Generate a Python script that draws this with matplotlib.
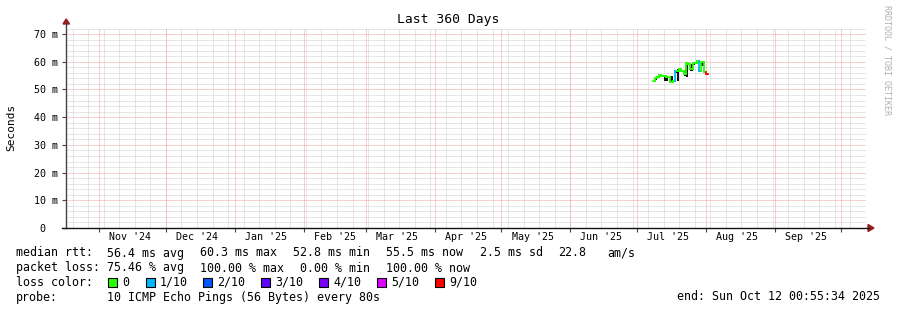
import datetime as dt
import matplotlib
matplotlib.use('Agg')
import matplotlib.pyplot as plt
import matplotlib.dates as mdates
from matplotlib.patches import Polygon

# data (daily medians, ms)
start = dt.datetime(2024, 10, 17, 0, 55, 34)
end = dt.datetime(2025, 10, 12, 0, 55, 34)
first_day = dt.datetime(2025, 7, 8)
median = [53.0, 54.1, 54.6, 55.1, 54.8, 54.8, 54.6, 54.6, 52.8, 53.0,
          56.5, 56.6, 57.5, 56.6, 55.5, 59.4, 59.1, 57.3, 59.4, 59.7,
          60.3, 56.7, 60.1, 56.4, 55.5]
smoke_lo = [53.0, 53.6, 54.6, 55.1, 54.8, 53.2, 53.0, 54.6, 52.6, 53.0,
            56.0, 52.9, 57.5, 56.2, 54.8, 54.5, 58.8, 56.8, 58.9, 59.7,
            59.8, 56.2, 58.5, 55.9, 55.2]
smoke_hi = [53.0, 54.1, 55.0, 55.1, 54.8, 55.3, 55.0, 54.6, 55.0, 53.0,
            56.5, 57.5, 57.9, 56.6, 57.0, 59.6, 59.1, 59.2, 59.4, 59.9,
            60.3, 56.7, 60.1, 56.4, 55.5]
loss = [0, 0, 0, 0, 0, 0, 0, 0, 0, 0,
        1, 0, 0, 0, 0, 0, 0, 0, 0, 0,
        0, 1, 0, 0, 9]
loss_levels = ['0', '1/10', '2/10', '3/10', '4/10', '5/10', '9/10']
loss_colors = ['#26ff00', '#00b8ff', '#0059ff', '#5e00ff', '#7e00ff', '#dd00ff', '#ff0000']
loss_map = {0: '#26ff00', 1: '#00b8ff', 2: '#0059ff', 3: '#5e00ff',
            4: '#7e00ff', 5: '#dd00ff', 9: '#ff0000'}

W, H = 897, 310
MONO = 'DejaVu Sans Mono'

def fx(x):
    return x / W

def fy(y):
    return 1 - y / H

fig = plt.figure(figsize=(W / 100, H / 100), dpi=100, facecolor='white')
ax = fig.add_axes([fx(66), fy(228), 800 / W, 200 / H])
ax.set_xlim(start, end)
ax.set_ylim(0, 72.2)
for s in ax.spines.values():
    s.set_visible(False)

# grid: weekly minor, monthly major, 2 m minor, 10 m major
dotted = (0, (1, 1))
minor_c = '#cfcfcf'
major_c = '#f3a0a0'
d = dt.datetime(2024, 10, 20)
while d < end:
    ax.axvline(d, color=minor_c, lw=0.72, ls=dotted, zorder=1)
    d += dt.timedelta(days=7)
months = [dt.datetime(2024 + (10 + i) // 12, (10 + i) % 12 + 1, 1) for i in range(12)]
for m in months:
    ax.axvline(m, color=major_c, lw=0.72, ls=dotted, zorder=2)
for v in range(2, 73, 2):
    major = v % 10 == 0
    ax.axhline(v, color=major_c if major else minor_c, lw=0.72, ls=dotted,
               zorder=2 if major else 1)

# smoke + median
days = [first_day + dt.timedelta(days=i) for i in range(len(median) + 1)]
for i in range(len(median)):
    if smoke_hi[i] > smoke_lo[i]:
        ax.fill_between([days[i], days[i + 1]], smoke_lo[i], smoke_hi[i],
                        color='#111111', lw=0, zorder=3)
for i in range(len(median)):
    col = loss_map[loss[i]]
    ax.plot([days[i], days[i + 1]], [median[i], median[i]], color=col, lw=1.3,
            solid_capstyle='projecting', zorder=4)
    if i + 1 < len(median):
        ax.plot([days[i + 1], days[i + 1]], [median[i], median[i + 1]],
                color=loss_map[loss[i + 1]], lw=1.3, zorder=4)

# ticks
ax.set_xticks(months)
ax.set_xticks([m + dt.timedelta(days=14) for m in months[:-1]], minor=True)
ax.xaxis.set_major_formatter(plt.NullFormatter())
ax.xaxis.set_minor_formatter(mdates.DateFormatter("%b '%y"))
ax.tick_params(axis='x', which='major', length=3, color='#444444', direction='out')
ax.tick_params(axis='x', which='minor', length=0, pad=3, labelsize=7.2)
ax.set_yticks(range(0, 71, 10))
ax.set_yticklabels(['0  '] + ['%d m' % v for v in range(10, 71, 10)])
ax.tick_params(axis='y', length=3, color='#444444', pad=2.5, labelsize=7.2)
for lab in ax.get_xticklabels(minor=True) + ax.get_yticklabels():
    lab.set_fontfamily(MONO)

# axis lines with arrows
fig.add_artist(plt.Line2D([fx(66), fx(66)], [fy(228), fy(23)], color='#444444', lw=1))
fig.add_artist(plt.Line2D([fx(62), fx(869)], [fy(228), fy(228)], color='#111111', lw=1))
fig.add_artist(Polygon([(fx(63), fy(24)), (fx(69.5), fy(24)), (fx(66.2), fy(19))],
                       closed=True, color='#9b1c1c', transform=fig.transFigure))
fig.add_artist(Polygon([(fx(868), fy(224.5)), (fx(868), fy(231.5)), (fx(874), fy(228))],
                       closed=True, color='#9b1c1c', transform=fig.transFigure))

# titles
fig.text(fx(448), fy(19), 'Last 360 Days', ha='center', va='center',
         family=MONO, fontsize=9.4)
fig.text(fx(11), fy(127), 'Seconds', ha='center', va='center', rotation=90,
         family=MONO, fontsize=8)
fig.text(fx(887), fy(60), 'RRDTOOL / TOBI OETIKER', ha='center', va='center',
         rotation=270, family=MONO, fontsize=6, color='#b0b0b0')

# legend
fs = 8.4
rows = [
    (253, [(16, 'median rtt:'), (107, '56.4 ms avg'), (200, '60.3 ms max'),
           (293, '52.8 ms min'), (386, '55.5 ms now'), (480, '2.5 ms sd'),
           (558, '22.8'), (607, 'am/s')]),
    (268, [(16, 'packet loss:'), (107, '75.46 % avg'), (200, '100.00 % max'),
           (300, '0.00 % min'), (386, '100.00 % now')]),
    (297, [(16, 'probe:'), (107, '10 ICMP Echo Pings (56 Bytes) every 80s')]),
]
for y, items in rows:
    for x, t in items:
        fig.text(fx(x), fy(y), t, ha='left', va='center', family=MONO, fontsize=fs)
fig.text(fx(880), fy(297), 'end: Sun Oct 12 00:55:34 2025', ha='right', va='center',
         family=MONO, fontsize=fs)
fig.text(fx(16), fy(282), 'loss color:', ha='left', va='center', family=MONO, fontsize=fs)
box_x = [108, 146, 203, 261, 319, 377, 435]
for bx, lab, col in zip(box_x, loss_levels, loss_colors):
    fig.add_artist(plt.Rectangle((fx(bx), fy(286.5)), 9 / W, 9 / H, facecolor=col,
                                 edgecolor='black', lw=0.8, transform=fig.transFigure))
    fig.text(fx(bx + 14), fy(282), lab, ha='left', va='center', family=MONO, fontsize=fs)

fig.savefig('out.png', dpi=100, facecolor='white')
